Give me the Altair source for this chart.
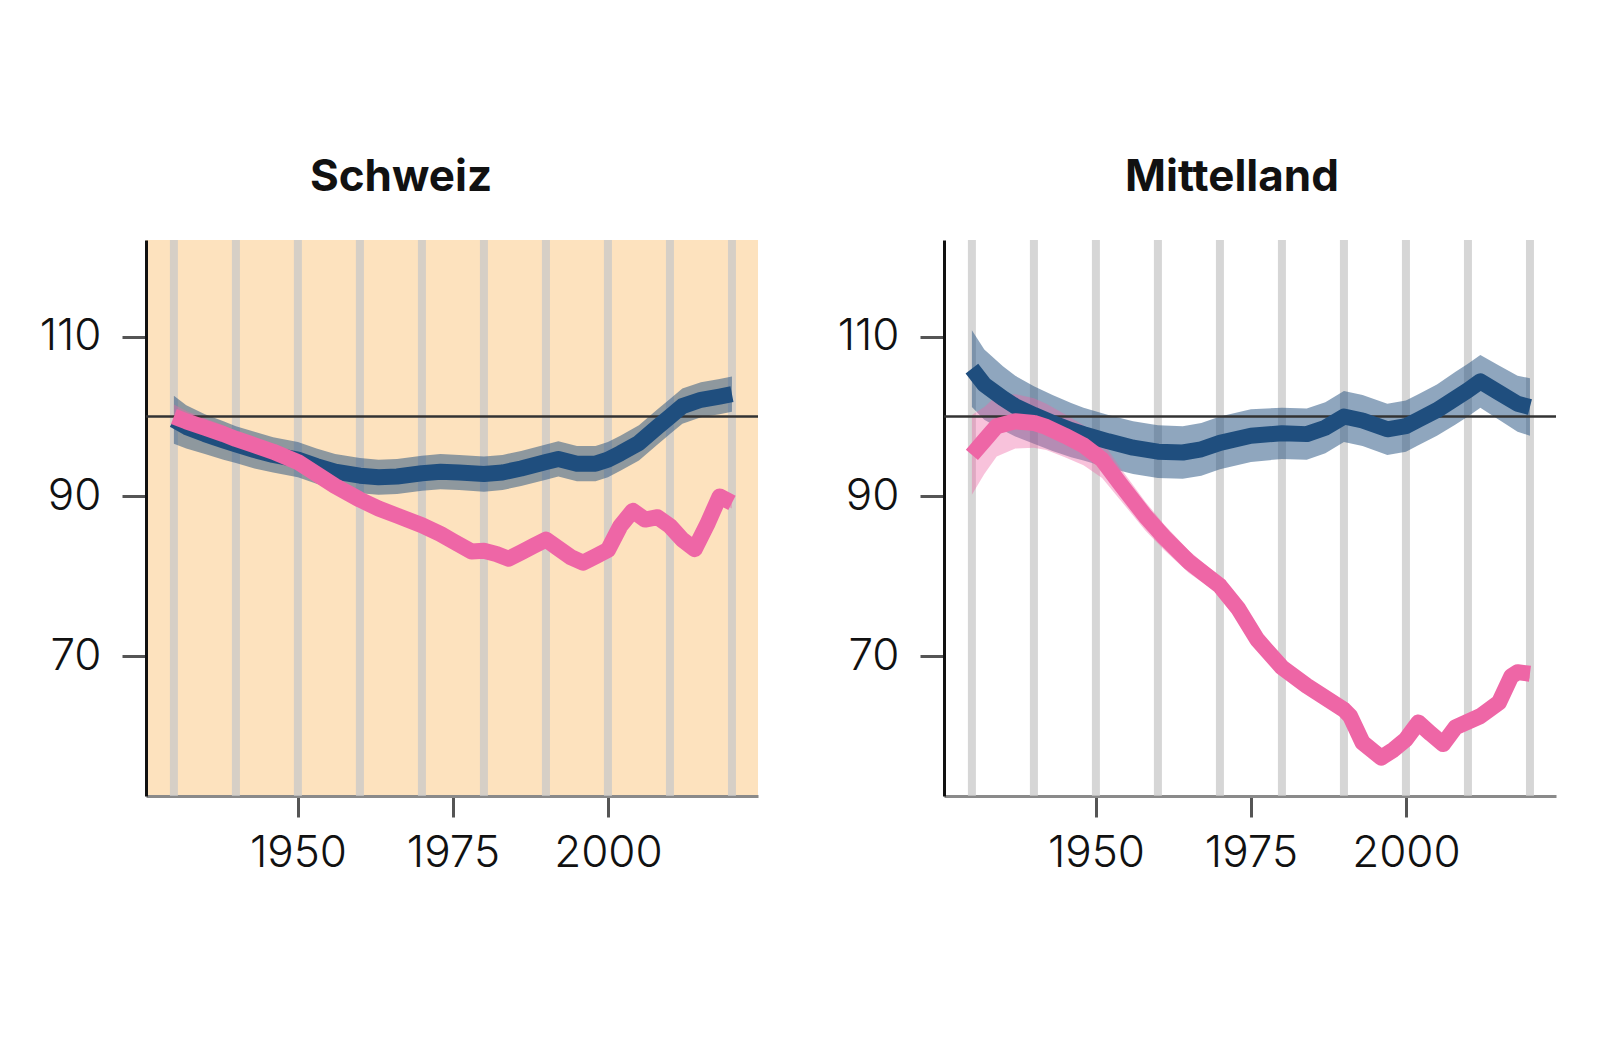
import altair as alt
import pandas as pd

# ---------------- data ----------------
grid_years = [1930, 1940, 1950, 1960, 1970, 1980, 1990, 2000, 2010, 2020]

# Schweiz - blue series
sch_blue_years = [1930, 1932, 1935, 1938, 1940, 1943, 1946, 1950, 1953, 1956, 1960, 1963,
                  1966, 1970, 1973, 1976, 1980, 1983, 1986, 1990, 1992, 1995, 1998, 2000,
                  2002, 2005, 2008, 2010, 2012, 2015, 2018, 2020]
sch_blue = [99.6, 98.7, 97.8, 97.0, 96.5, 95.8, 95.2, 94.6, 93.8, 93.1, 92.6, 92.4,
            92.5, 92.9, 93.1, 93.0, 92.8, 93.0, 93.5, 94.3, 94.7, 94.1, 94.1, 94.6,
            95.4, 96.7, 98.7, 100.0, 101.3, 102.1, 102.5, 102.8]
sch_blue_hw = [3.0, 2.7, 2.5, 2.4, 2.3, 2.3, 2.2, 2.2, 2.2, 2.2, 2.2, 2.2,
               2.2, 2.2, 2.2, 2.2, 2.2, 2.2, 2.2, 2.2, 2.2, 2.2, 2.2, 2.2,
               2.2, 2.2, 2.2, 2.2, 2.2, 2.2, 2.2, 2.2]

# Schweiz - pink series
sch_pink_years = [1930, 1932, 1935, 1938, 1940, 1943, 1946, 1950, 1953, 1956, 1960, 1963,
                  1966, 1970, 1973, 1975, 1978, 1980, 1982, 1984, 1986, 1988, 1990, 1992,
                  1994, 1996, 1998, 2000, 2002, 2004, 2006, 2008, 2010, 2012, 2014, 2016,
                  2018, 2020]
sch_pink = [100.0, 99.4, 98.6, 97.8, 97.2, 96.4, 95.6, 94.3, 92.8, 91.3, 89.6, 88.5,
            87.6, 86.4, 85.3, 84.4, 83.1, 83.2, 82.8, 82.2, 83.0, 83.8, 84.6, 83.5,
            82.4, 81.7, 82.5, 83.3, 86.3, 88.2, 87.1, 87.4, 86.3, 84.6, 83.4, 86.5,
            90.0, 89.2]
sch_pink_hw = [1.5, 1.3, 1.2, 1.1, 1.0, 0.9, 0.8, 0.7, 0.7, 0.7, 0.7, 0.7,
               0.7, 0.7, 0.7, 0.7, 0.7, 0.7, 0.7, 0.7, 0.7, 0.7, 0.7, 0.7,
               0.7, 0.7, 0.7, 0.7, 0.7, 0.7, 0.7, 0.7, 0.7, 0.7, 0.7, 0.7,
               0.7, 0.7]

# Mittelland - blue series
mit_blue_years = [1930, 1932, 1935, 1937, 1940, 1943, 1946, 1948, 1952, 1956, 1960, 1964,
                  1967, 1970, 1975, 1980, 1984, 1987, 1990, 1993, 1997, 2000, 2002, 2005,
                  2008, 2010, 2012, 2015, 2018, 2020]
mit_blue = [106.0, 104.0, 102.3, 101.3, 100.2, 99.2, 98.3, 97.8, 96.9, 96.1, 95.6, 95.5,
            95.9, 96.7, 97.6, 97.9, 97.8, 98.6, 100.0, 99.5, 98.4, 98.8, 99.6, 100.8,
            102.3, 103.3, 104.4, 103.0, 101.6, 101.2]
mit_blue_hw = [4.8, 4.4, 4.0, 3.8, 3.6, 3.5, 3.4, 3.3, 3.3, 3.3, 3.3, 3.3,
               3.3, 3.3, 3.3, 3.2, 3.2, 3.2, 3.2, 3.2, 3.2, 3.2, 3.2, 3.2,
               3.3, 3.3, 3.3, 3.4, 3.5, 3.6]

# Mittelland - pink series
mit_pink_years = [1930, 1932, 1934, 1937, 1940, 1942, 1945, 1948, 1951, 1954, 1958, 1961,
                  1965, 1970, 1973, 1976, 1980, 1984, 1988, 1990, 1991, 1993, 1996, 1998,
                  2000, 2002, 2004, 2006, 2008, 2012, 2015, 2017, 2018, 2020]
mit_pink = [95.2, 97.0, 98.8, 99.4, 99.2, 98.7, 97.6, 96.4, 94.6, 91.5, 87.5, 84.9,
            81.8, 78.8, 75.9, 72.1, 68.6, 66.3, 64.3, 63.3, 62.5, 59.2, 57.3, 58.3,
            59.6, 61.7, 60.3, 59.0, 61.1, 62.5, 64.2, 67.5, 68.0, 67.8]
mit_pink_hw = [5.0, 4.2, 3.8, 3.4, 3.1, 2.9, 2.7, 2.5, 2.3, 2.0, 1.8, 1.6,
               1.4, 1.1, 0.9, 0.8, 0.6, 0.6, 0.6, 0.6, 0.6, 0.6, 0.6, 0.6,
               0.6, 0.6, 0.6, 0.6, 0.6, 0.6, 0.6, 0.6, 0.6, 0.6]

x_ticks = [1950, 1975, 2000]
y_ticks = [70, 90, 110]
ref_value = [100]

# ---------------- styling ----------------
BLUE = "#1F4E7E"
PINK = "#EE66A6"
ORANGE = "#FDE2BE"
W, H = 612, 556

xs = alt.Scale(domain=[1925.5, 2024.2], nice=False, zero=False)
ys = alt.Scale(domain=[52.5, 122.1], nice=False, zero=False)

label_font = dict(labelFont="Inter", labelFontSize=44, labelFontWeight=300, labelColor="#111")

xaxis = alt.Axis(values=x_ticks, format="d", title=None, grid=False,
                 domainColor="#8a8a8a", domainWidth=3, tickColor="#555", tickWidth=3,
                 tickSize=21, labelPadding=14, labelFlush=False, labelOverlap=False,
                 **label_font)
yaxis = alt.Axis(values=y_ticks, title=None, grid=False,
                 domainColor="#111", domainWidth=3, tickColor="#555", tickWidth=3,
                 tickSize=24, labelPadding=21, labelFlush=False, labelOverlap=False,
                 **label_font)


def series_df(years, vals, hws):
    return pd.DataFrame({
        "year": years,
        "value": vals,
        "lo": [v - h for v, h in zip(vals, hws)],
        "hi": [v + h for v, h in zip(vals, hws)],
    })


grid_df = pd.DataFrame({"year": grid_years})
ref_df = pd.DataFrame({"value": ref_value})


def panel(blue_df, pink_df, title, dx, bg=None):
    X = alt.X("year:Q", scale=xs, axis=xaxis)
    grid = alt.Chart(grid_df).mark_rule(color="#c8c8c8", opacity=0.75, strokeWidth=8).encode(x=X)
    band_b = alt.Chart(blue_df).mark_area(color=BLUE, opacity=0.5).encode(
        x=X, y=alt.Y("lo:Q", scale=ys, axis=yaxis), y2="hi:Q")
    band_p = alt.Chart(pink_df).mark_area(color=PINK, opacity=0.4).encode(
        x=X, y=alt.Y("lo:Q", scale=ys, axis=yaxis), y2="hi:Q")
    ref = alt.Chart(ref_df).mark_rule(color="#333", strokeWidth=2.5).encode(
        y=alt.Y("value:Q", scale=ys, axis=yaxis))
    line_b = alt.Chart(blue_df).mark_line(color=BLUE, strokeWidth=16, strokeJoin="round").encode(
        x=X, y=alt.Y("value:Q", scale=ys, axis=yaxis))
    line_p = alt.Chart(pink_df).mark_line(color=PINK, strokeWidth=16, strokeJoin="round").encode(
        x=X, y=alt.Y("value:Q", scale=ys, axis=yaxis))
    props = dict(
        width=W, height=H,
        title=alt.TitleParams(text=title, font="Inter", fontSize=44, fontWeight="bold",
                              color="#111", anchor="middle", frame="group", dx=dx,
                              offset=1, baseline="alphabetic"),
    )
    if bg:
        props["view"] = alt.ViewBackground(fill=bg, strokeWidth=0)
    return alt.layer(grid, band_b, band_p, ref, line_b, line_p).properties(**props)


left = panel(series_df(sch_blue_years, sch_blue, sch_blue_hw),
             series_df(sch_pink_years, sch_pink, sch_pink_hw), "Schweiz", -51, ORANGE)
right = panel(series_df(mit_blue_years, mit_blue, mit_blue_hw),
              series_df(mit_pink_years, mit_pink, mit_pink_hw), "Mittelland", -18)

chart = alt.hconcat(left, right, spacing=186, bounds="flush").properties(
    padding={"left": 31, "top": 147, "right": 10, "bottom": 10},
    background="white",
).configure_view(stroke="transparent").configure_concat(spacing=186)

chart.save("out.html", embed_options={"renderer": "svg", "actions": False})
